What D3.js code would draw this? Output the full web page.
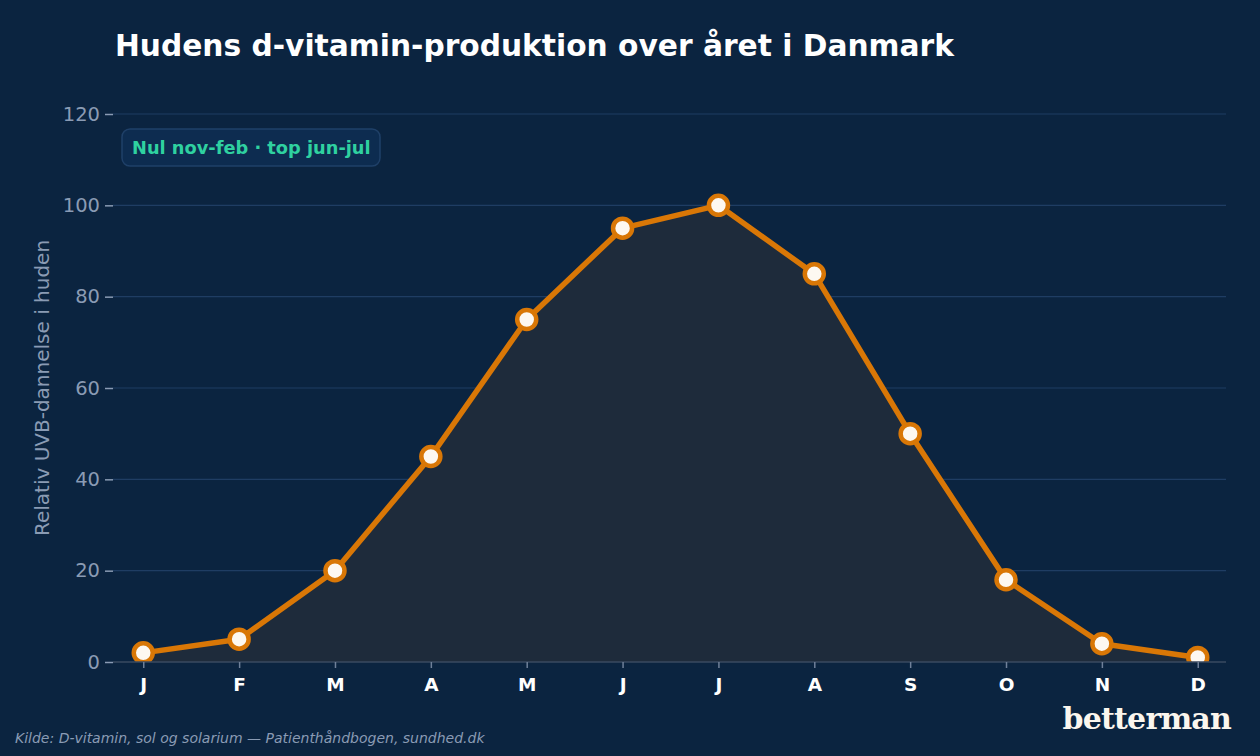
<!DOCTYPE html>
<html><head><meta charset="utf-8">
<script src="https://cdn.jsdelivr.net/npm/d3@7"></script>
<style>
html,body{margin:0;padding:0;background:#0b2440;}
svg{display:block;}
</style></head>
<body>
<svg id="chart" width="1260" height="756"></svg>
<script>
const months = ["J","F","M","A","M","J","J","A","S","O","N","D"];
const values = [2,5,20,45,75,95,100,85,50,18,4,1];
const yTicks = [0,20,40,60,80,100,120];
const title = "Hudens d-vitamin-produktion over året i Danmark";
const yLabel = "Relativ UVB-dannelse i huden";
const badge = "Nul nov-feb · top jun-jul";
const source = "Kilde: D-vitamin, sol og solarium — Patienthåndbogen, sundhed.dk";
const brand = "betterman";

const W = 1260, H = 756;
const m = {left:113, right:1226, top:114, bottom:662};
const svg = d3.select("#chart");
svg.append("rect").attr("width",W).attr("height",H).attr("fill","#0b2440");

const idx = months.map((d,i)=>i);
const x = d3.scalePoint().domain(idx).range([m.left+1.5,m.right+0.5]).padding(0.3);
const y = d3.scaleLinear().domain([0,120]).range([m.bottom,m.top]);

// grid
svg.append("g").selectAll("line").data(yTicks.filter(t=>t>0)).join("line")
  .attr("x1",m.left).attr("x2",m.right)
  .attr("y1",d=>y(d)).attr("y2",d=>y(d))
  .attr("stroke","#1f3d63").attr("stroke-width",1.2);

// clip
svg.append("clipPath").attr("id","clip").append("rect")
  .attr("x",m.left).attr("y",m.top-20).attr("width",m.right-m.left).attr("height",m.bottom-m.top+20);

const g = svg.append("g").attr("clip-path","url(#clip)");
g.append("path").datum(values)
  .attr("d",d3.area().x((d,i)=>x(i)).y0(y(0)).y1(d=>y(d)))
  .attr("fill","#1e2b3b");

// x axis line
svg.append("line").attr("x1",m.left).attr("x2",m.right).attr("y1",y(0)).attr("y2",y(0))
  .attr("stroke","#3a4a60").attr("stroke-width",1.5);

g.append("path").datum(values)
  .attr("d",d3.line().x((d,i)=>x(i)).y(d=>y(d)))
  .attr("fill","none").attr("stroke","#d97706").attr("stroke-width",5.5)
  .attr("stroke-linejoin","round");
g.selectAll("circle").data(values).join("circle")
  .attr("cx",(d,i)=>x(i)).attr("cy",d=>y(d)).attr("r",9.5)
  .attr("fill","#fdf8f1").attr("stroke","#d97706").attr("stroke-width",4.5);

// y axis
const ya = svg.append("g").attr("transform",`translate(${m.left},0)`)
  .call(d3.axisLeft(y).tickValues(yTicks).tickSize(8).tickPadding(5));
ya.select(".domain").remove();
ya.selectAll(".tick line").attr("stroke","#8a9bb4").attr("stroke-width",1.5);
ya.selectAll(".tick text").attr("fill","#8a9bb4").attr("font-family","DejaVu Sans").attr("font-size",19.5);

// x axis
const xa = svg.append("g").attr("transform",`translate(0,${y(0)})`)
  .call(d3.axisBottom(x).tickFormat(i=>months[i]).tickSize(6).tickPadding(10));
xa.select(".domain").remove();
xa.selectAll(".tick line").attr("stroke","#6f8099").attr("stroke-width",1.5);
xa.selectAll(".tick text").attr("fill","#ffffff").attr("font-family","DejaVu Sans")
  .attr("font-weight","bold").attr("font-size",18.5);

// y label
svg.append("text").attr("transform",`translate(49,${(m.top+m.bottom)/2}) rotate(-90)`)
  .attr("text-anchor","middle").attr("fill","#8a9bb4")
  .attr("font-family","DejaVu Sans").attr("font-size",20).text(yLabel);

// title
svg.append("text").attr("x",115).attr("y",56).attr("fill","#ffffff")
  .attr("font-family","DejaVu Sans").attr("font-weight","bold").attr("font-size",29.7).text(title);

// badge
svg.append("rect").attr("x",122).attr("y",129).attr("width",258).attr("height",37).attr("rx",8)
  .attr("fill","#0d2c50").attr("stroke","#1f4068").attr("stroke-width",1.5);
svg.append("text").attr("x",132).attr("y",153.5).attr("fill","#2fd1a0")
  .attr("font-family","DejaVu Sans").attr("font-weight","bold").attr("font-size",17.8).text(badge);

// source
svg.append("text").attr("x",15).attr("y",743).attr("fill","#8a9bb4")
  .attr("font-family","DejaVu Sans").attr("font-style","italic").attr("font-size",14).text(source);

// brand
svg.append("text").attr("x",1231).attr("y",729).attr("text-anchor","end").attr("fill","#fbf6ee")
  .attr("font-family","DejaVu Serif").attr("font-weight","bold").attr("font-size",30)
  .attr("letter-spacing",-0.8).text(brand);
</script>
</body></html>
